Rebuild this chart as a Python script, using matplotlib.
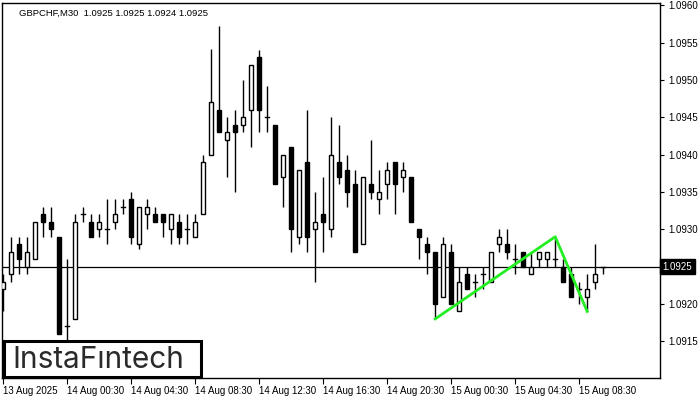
import matplotlib
matplotlib.use("Agg")
import matplotlib.pyplot as plt
from matplotlib.patches import Rectangle

# ── Data (GBPCHF M30, one bar per half hour) ─────────────────────
opens = [1.0922, 1.0924, 1.0928, 1.0925, 1.0926, 1.0932, 1.0931, 1.0929, 1.0917, 1.0918,
         1.0932, 1.0931, 1.0930, 1.0930, 1.0931, 1.0933, 1.0934, 1.0928, 1.0932, 1.0932,
         1.0932, 1.0930, 1.0931, 1.0930, 1.0929, 1.0932, 1.0940, 1.0946, 1.0942, 1.0944,
         1.0944, 1.0946, 1.0953, 1.0945, 1.0944, 1.0937, 1.0941, 1.0929, 1.0939, 1.0930,
         1.0932, 1.0930, 1.0939, 1.0938, 1.0936, 1.0928, 1.0936, 1.0934, 1.0936, 1.0939,
         1.0937, 1.0937, 1.0930, 1.0928, 1.0927, 1.0921, 1.0927, 1.0919, 1.0924, 1.0923,
         1.0924, 1.0923, 1.0928, 1.0928, 1.0926, 1.0927, 1.0924, 1.0926, 1.0926, 1.0926,
         1.0925, 1.0924, 1.0922, 1.0921, 1.0923, 1.0925]
highs = [1.0924, 1.0929, 1.0929, 1.0929, 1.0931, 1.0933, 1.0933, 1.0929, 1.0926, 1.0932,
         1.0933, 1.0932, 1.0932, 1.0934, 1.0934, 1.0934, 1.0935, 1.0933, 1.0934, 1.0933,
         1.0932, 1.0932, 1.0932, 1.0932, 1.0932, 1.0940, 1.09541, 1.09572, 1.0945, 1.0946,
         1.0950, 1.0952, 1.0954, 1.09492, 1.0944, 1.0940, 1.0941, 1.0938, 1.0946, 1.0935,
         1.0937, 1.0945, 1.0944, 1.0940, 1.0938, 1.0937, 1.0942, 1.0938, 1.0939, 1.0939,
         1.0939, 1.0937, 1.0930, 1.0929, 1.0927, 1.0929, 1.0928, 1.0925, 1.0925, 1.0924,
         1.0925, 1.0927, 1.0930, 1.0930, 1.0928, 1.0927, 1.0927, 1.0927, 1.0927, 1.0929,
         1.0926, 1.0925, 1.0923, 1.0924, 1.0928, 1.0925]
lows = [1.0919, 1.0923, 1.0924, 1.0924, 1.0926, 1.0929, 1.0929, 1.0916, 1.0914, 1.0918,
        1.0931, 1.0929, 1.0929, 1.0928, 1.0930, 1.0932, 1.0928, 1.09273, 1.0930, 1.0931,
        1.0929, 1.0928, 1.0928, 1.0928, 1.0929, 1.0932, 1.0940, 1.0943, 1.0937, 1.0935,
        1.0943, 1.0941, 1.0943, 1.0943, 1.0936, 1.0933, 1.0927, 1.0928, 1.0927, 1.0923,
        1.0927, 1.0929, 1.0936, 1.0933, 1.0927, 1.0928, 1.0934, 1.0932, 1.0934, 1.0932,
        1.0935, 1.0931, 1.0926, 1.0924, 1.0918, 1.0921, 1.0920, 1.0919, 1.0922, 1.0921,
        1.0922, 1.0923, 1.0927, 1.0926, 1.0924, 1.0925, 1.0924, 1.0925, 1.0925, 1.0925,
        1.0923, 1.0921, 1.0920, 1.0919, 1.0922, 1.0924]
closes = [1.0923, 1.0927, 1.0926, 1.0927, 1.0931, 1.0931, 1.0930, 1.0916, 1.0917, 1.0931,
          1.0932, 1.0929, 1.0931, 1.0930, 1.0932, 1.0933, 1.0929, 1.0933, 1.0933, 1.0931,
          1.0931, 1.0932, 1.0929, 1.0930, 1.0931, 1.0939, 1.0947, 1.0943, 1.0943, 1.0943,
          1.0945, 1.0952, 1.0946, 1.0945, 1.0936, 1.0940, 1.0930, 1.0938, 1.0929, 1.0931,
          1.0931, 1.0940, 1.0937, 1.0935, 1.0927, 1.0937, 1.0935, 1.0935, 1.0938, 1.0936,
          1.0938, 1.0931, 1.0929, 1.0927, 1.0920, 1.0928, 1.0920, 1.0923, 1.0922, 1.0923,
          1.0924, 1.0927, 1.0929, 1.0927, 1.0926, 1.0925, 1.0925, 1.0927, 1.0927, 1.0926,
          1.0923, 1.0921, 1.0922, 1.0922, 1.0924, 1.0925]

xtick_bars = [0, 8, 16, 24, 32, 40, 48, 56, 64, 72]
xtick_labels = ["13 Aug 2025", "14 Aug 00:30", "14 Aug 04:30", "14 Aug 08:30",
                "14 Aug 12:30", "14 Aug 16:30", "14 Aug 20:30", "15 Aug 00:30",
                "15 Aug 04:30", "15 Aug 08:30"]
# 1.0925 is shown by the current-price box instead
yticks = [1.0915, 1.0920, 1.0930, 1.0935, 1.0940, 1.0945, 1.0950, 1.0955, 1.0960]

# pattern (double top) pivot points
pattern_bars = [54, 69, 73]
pattern_prices = [1.0918, 1.0929, 1.0919]

last_price = 1.0925
title = "GBPCHF,M30  1.0925 1.0925 1.0924 1.0925"

FONT = ["Liberation Sans", "DejaVu Sans"]

# ── Figure ───────────────────────────────────────────────────────
fig = plt.figure(figsize=(7, 4), dpi=100)
ax = fig.add_axes([2 / 700, 22 / 400, 658 / 700, 375 / 400])

body_w = 0.55
for i, (o, h, l, c) in enumerate(zip(opens, highs, lows, closes)):
    ax.plot([i, i], [l, h], color="black", lw=1.0, solid_capstyle="butt", zorder=2)
    if abs(c - o) < 1e-7:
        ax.plot([i - body_w / 2, i + body_w / 2], [o, o], color="black", lw=1.0, zorder=3)
    else:
        face = "white" if c > o else "black"
        ax.add_patch(Rectangle((i - body_w / 2, min(o, c)), body_w, abs(c - o),
                               facecolor=face, edgecolor="black", lw=1.0, zorder=3))

ax.axhline(last_price, color="black", lw=0.9, zorder=1)
ax.plot(pattern_bars, pattern_prices, color="#22ee22", lw=2.0, zorder=4)

ax.set_xlim(-0.15, 82.1)
ax.set_ylim(1.091009, 1.096029)

# axes styling — MT4 look
for s in ax.spines.values():
    s.set_linewidth(1.0)
    s.set_color("black")
ax.yaxis.tick_right()
ax.set_yticks(yticks)
ax.set_yticklabels([f"{v:.4f}" for v in yticks], fontsize=7, family=FONT)
ax.tick_params(axis="y", direction="out", length=3, pad=3, right=True, left=False)
ax.set_xticks(xtick_bars)
ax.set_xticklabels(xtick_labels, fontsize=7, ha="left", family=FONT)
ax.tick_params(axis="x", direction="out", length=4, pad=2)

# current price marker on the price scale
ax.text(1.004, last_price, f"{last_price:.4f}", transform=ax.get_yaxis_transform(),
        ha="left", va="center", fontsize=7, color="white", zorder=10, family=FONT,
        bbox=dict(boxstyle="square,pad=0.25", facecolor="black", edgecolor="black"))

ax.text(17 / 658, 1 - 6 / 375, title, transform=ax.transAxes, fontsize=6.8,
        ha="left", va="top", color="black", family=FONT)

# logo box
fig.patches.append(Rectangle((4 / 700, 23 / 400), 197 / 700, 36 / 400, transform=fig.transFigure,
                             facecolor="white", edgecolor="black", lw=2.2, zorder=20))
fig.text(98 / 700, 40.5 / 400, "InstaF\u0131ntech", fontsize=21.5, family="Inter",
         fontweight="normal", color="#2a2a2a", ha="center", va="center", zorder=21)

fig.savefig("out.png", dpi=100)
